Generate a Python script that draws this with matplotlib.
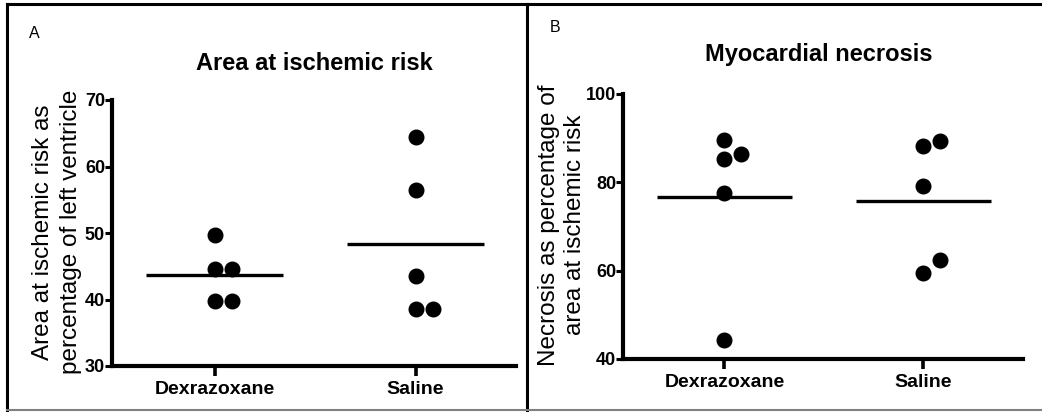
import numpy as np
import matplotlib
matplotlib.use("Agg")
import matplotlib.pyplot as plt
from matplotlib.lines import Line2D

plt.rcParams['font.family'] = ['Liberation Sans', 'DejaVu Sans']

# data
groups = ["Dexrazoxane", "Saline"]
area_dex = [49.7, 44.6, 44.6, 39.7, 39.7]
area_sal = [64.4, 56.5, 43.5, 38.6, 38.6]
necr_dex = [89.6, 86.4, 85.3, 77.6, 44.3]
necr_sal = [88.2, 89.4, 79.2, 59.5, 62.4]

area_ticks = [30, 40, 50, 60, 70]
necr_ticks = [40, 60, 80, 100]

W, H = 1042, 412


def dodge(vals, thresh, d=0.085):
    # push overlapping dots sideways, like a small beeswarm
    placed = []
    offs = []
    for v in vals:
        for k in [0, d, -d, 2 * d]:
            ok = True
            for pv, pk in placed:
                if abs(v - pv) < thresh and abs(k - pk) < 1e-9:
                    ok = False
            if ok:
                break
        placed.append((v, k))
        offs.append(k)
    return offs


def panel(ax, series, ticks, h_px):
    lo, hi = ticks[0], ticks[-1]
    thresh = 15.0 / h_px * (hi - lo)
    for i, vals in enumerate(series):
        offs = dodge(vals, thresh)
        x = [i + o for o in offs]
        ax.plot(x, vals, 'o', color='black', markersize=10.5, linestyle='none',
                clip_on=False, zorder=3)
        m = np.mean(vals)
        ax.plot([i - 0.34, i + 0.34], [m, m], color='black', lw=2.4,
                solid_capstyle='butt', zorder=2)
    ax.set_ylim(lo, hi)
    ax.set_xlim(-0.51, 1.5)
    ax.set_yticks(ticks)
    ax.set_xticks([0, 1])
    ax.set_xticklabels(groups, fontsize=14, fontweight='bold')
    for t in ax.get_yticklabels():
        t.set_fontweight('bold')
        t.set_fontsize(13)
    for s in ['top', 'right']:
        ax.spines[s].set_visible(False)
    for s in ['left', 'bottom']:
        ax.spines[s].set_linewidth(3.0)
        ax.spines[s].set_capstyle('projecting')
    ax.tick_params(axis='y', length=5, width=2.2, pad=0)
    ax.tick_params(axis='x', length=7, width=2.6, pad=4)


fig = plt.figure(figsize=(W / 100, H / 100), dpi=100)

axA = fig.add_axes([112 / W, 1 - 366 / H, (516 - 112) / W, (366 - 100) / H])
panel(axA, [area_dex, area_sal], area_ticks, 266)

axB = fig.add_axes([623 / W, 1 - 359 / H, (1023 - 623) / W, (359 - 94) / H])
panel(axB, [necr_dex, necr_sal], necr_ticks, 265)

fig.text(314 / W, 1 - 63 / H, "Area at ischemic risk", ha='center', va='center',
         fontsize=17, fontweight='bold')
fig.text(819 / W, 1 - 55 / H, "Myocardial necrosis", ha='center', va='center',
         fontsize=17, fontweight='bold')

fig.text(57 / W, 1 - 232 / H, "Area at ischemic risk as\npercentage of left ventricle",
         rotation=90, ha='center', va='center', fontsize=17.5, linespacing=1.4,
         multialignment='center')
fig.text(562 / W, 1 - 225 / H, "Necrosis as percentage of\narea at ischemic risk",
         rotation=90, ha='center', va='center', fontsize=17.5, linespacing=1.25,
         multialignment='center')

fig.text(29 / W, 1 - 34 / H, "A", ha='left', va='center', fontsize=11.5)
fig.text(550 / W, 1 - 27 / H, "B", ha='left', va='center', fontsize=11.5)

# frame around the two panels
fig.add_artist(Line2D([7 / W, 1], [1 - 4 / H, 1 - 4 / H], transform=fig.transFigure,
                      color='black', lw=2.2))
fig.add_artist(Line2D([7 / W, 7 / W], [1 - 4 / H, 1 - 410 / H], transform=fig.transFigure,
                      color='black', lw=2.2))
fig.add_artist(Line2D([527 / W, 527 / W], [1 - 4 / H, 1 - 410 / H], transform=fig.transFigure,
                      color='black', lw=2.2))
fig.add_artist(Line2D([7 / W, 1], [1 - 410 / H, 1 - 410 / H], transform=fig.transFigure,
                      color='#808080', lw=1.5))

fig.savefig("out.png", dpi=100)
